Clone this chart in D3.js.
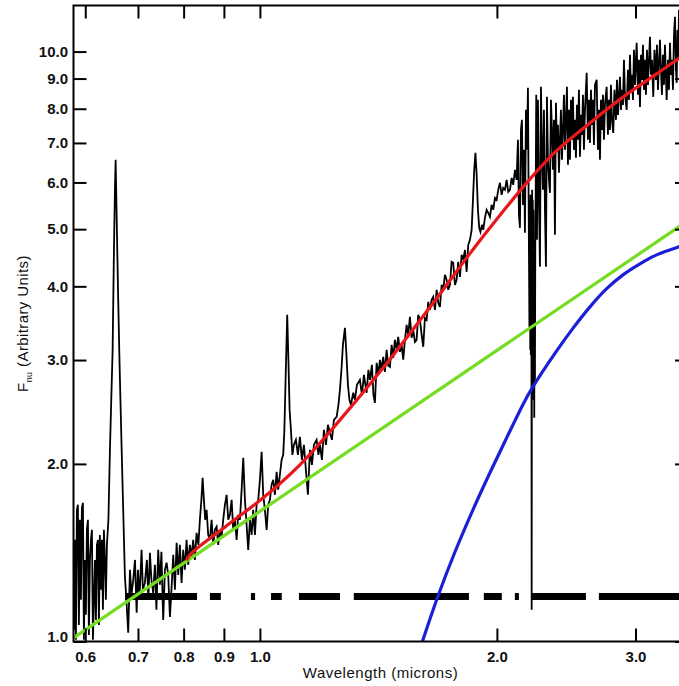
<!DOCTYPE html>
<html>
<head>
<meta charset="utf-8">
<script src="https://cdn.jsdelivr.net/npm/d3@7"></script>
<style>
  body { margin: 0; background: #fff; }
  svg { display: block; font-family: 'Liberation Sans', Arial, Helvetica, sans-serif; }
</style>
</head>
<body>
<svg id="chart"></svg>
<script>
// Data (wavelength in microns, F_nu in arbitrary units)
const spectrum = [
  [0.5804,1.047],[0.5821,1.487],[0.5838,1.007],[0.5855,1.672],[0.5872,1.705],[0.5889,1.067],[0.5907,1.608],[0.5924,1.177],
  [0.5941,1.685],[0.5959,1.718],[0.5976,1.007],[0.5994,1.375],[0.6011,1.110],[0.6029,1.546],[0.6047,1.608],[0.6064,1.026],
  [0.6082,1.375],[0.6100,1.487],[0.6118,1.546],[0.6136,1.007],[0.6154,1.177],[0.6172,1.375],[0.6190,1.088],[0.6208,1.458],
  [0.6226,1.487],[0.6244,1.067],[0.6262,1.516],[0.6281,1.224],[0.6299,1.487],[0.6318,1.132],[0.6336,1.546],[0.6355,1.375],
  [0.6373,1.177],[0.6392,1.458],
  // H alpha
  [0.6420,1.608],[0.6449,2.113],[0.6474,2.569],[0.6500,3.122],[0.6525,4.612],[0.6544,5.830],[0.6557,6.554],[0.6573,5.497],
  [0.6592,4.436],[0.6607,3.795],[0.6627,3.122],[0.6650,2.569],[0.6674,2.113],[0.6699,1.739],[0.6719,1.487],[0.6738,1.287],
  [0.6767,1.177],[0.6803,1.035],[0.6838,1.323],[0.6868,1.200],[0.6904,1.272],[0.6939,1.375],[0.6973,1.119],[0.7000,1.323],
  [0.7030,1.177],[0.7074,1.430],[0.7101,1.224],[0.7143,1.257],[0.7185,1.375],[0.7216,1.177],[0.7249,1.414],[0.7281,1.272],
  [0.7319,1.209],[0.7356,1.349],[0.7388,1.132],[0.7427,1.430],[0.7464,1.248],[0.7497,1.419],[0.7536,1.088],[0.7574,1.323],
  [0.7611,1.360],[0.7647,1.297],[0.7686,1.101],[0.7724,1.238],[0.7761,1.403],[0.7799,1.224],[0.7838,1.470],[0.7875,1.297],
  [0.7913,1.458],[0.7952,1.257],[0.7990,1.430],[0.8029,1.323],[0.8069,1.487],[0.8107,1.349],[0.8148,1.458],[0.8189,1.392],
  [0.8227,1.487],[0.8268,1.375],[0.8309,1.528],[0.8353,1.458],[0.8390,1.608],[0.8427,1.739],[0.8457,1.894],[0.8489,1.739],
  [0.8521,1.608],[0.8556,1.672],[0.8596,1.516],[0.8639,1.487],[0.8682,1.608],[0.8723,1.458],[0.8766,1.546],[0.8810,1.565],
  [0.8851,1.458],[0.8896,1.546],[0.8940,1.505],[0.8982,1.608],[0.9027,1.705],[0.9072,1.773],[0.9115,1.608],[0.9160,1.640],
  [0.9206,1.739],[0.9249,1.546],[0.9295,1.608],[0.9341,1.487],[0.9385,1.640],[0.9432,1.608],[0.9479,1.808],[0.9524,2.048],
  [0.9571,1.739],[0.9618,1.577],[0.9664,1.430],[0.9712,1.608],[0.9761,1.516],[0.9806,1.672],[0.9855,1.516],[0.9904,1.705],
  [0.9951,1.739],[1.0000,1.880],[1.0050,2.097],[1.0097,1.773],[1.0147,1.672],[1.0198,1.546],[1.0246,1.705],[1.0297,1.739],
  [1.0348,1.844],[1.0397,1.880],[1.0449,1.773],[1.0501,1.939],[1.0550,1.808],[1.0602,1.917],[1.0655,2.032],[1.0705,2.072],
  // He I 1.083
  [1.0742,2.285],[1.0780,2.777],[1.0831,3.579],[1.0869,3.003],[1.0907,2.470],[1.0949,2.285],[1.0997,2.072],[1.1046,2.155],
  [1.1110,2.197],[1.1176,2.072],[1.1241,2.223],[1.1307,2.032],[1.1373,2.155],[1.1440,1.954],[1.1507,1.773],[1.1575,2.113],
  [1.1643,1.993],[1.1711,2.155],[1.1804,2.197],[1.1866,2.072],[1.1919,2.155],[1.1989,2.032],[1.2059,2.285],[1.2130,2.155],
  [1.2201,2.330],[1.2273,2.258],[1.2345,2.197],[1.2417,2.376],[1.2516,2.404],[1.2582,2.519],
  // Pa beta
  [1.2637,2.671],[1.2693,2.887],[1.2748,3.183],[1.2823,3.401],[1.2880,3.061],[1.2936,2.723],[1.2993,2.569],[1.3050,2.519],
  [1.3138,2.640],[1.3204,2.569],[1.3281,2.723],[1.3398,2.777],[1.3477,2.619],[1.3556,2.832],[1.3663,2.640],[1.3735,2.887],
  [1.3796,2.777],[1.3877,2.944],[1.3938,2.619],[1.3999,2.538],[1.4069,2.967],[1.4143,2.832],[1.4205,3.003],[1.4267,2.887],
  [1.4343,3.037],[1.4414,2.865],[1.4486,3.122],[1.4554,2.933],[1.4627,2.921],[1.4700,3.183],[1.4769,3.026],[1.4842,3.246],
  [1.4917,3.122],[1.4986,3.285],[1.5061,3.097],[1.5136,3.183],[1.5207,3.003],[1.5283,3.246],[1.5359,3.441],[1.5431,3.310],
  [1.5508,3.551],[1.5585,3.272],[1.5658,3.375],[1.5737,3.221],[1.5815,3.246],[1.5889,3.579],[1.5969,3.510],[1.6049,3.310],
  [1.6124,3.159],[1.6204,3.538],[1.6285,3.510],[1.6362,3.765],[1.6443,3.649],[1.6525,3.795],[1.6602,3.839],[1.6685,3.649],
  [1.6768,3.946],[1.6847,3.750],[1.6931,3.692],[1.7015,4.023],[1.7095,3.946],[1.7180,4.183],[1.7266,4.103],[1.7347,3.946],
  [1.7433,4.023],[1.7520,4.401],[1.7602,4.384],[1.7690,4.023],[1.7778,4.103],[1.7861,4.401],[1.7951,4.151],[1.8040,4.523],
  [1.8125,4.436],[1.8216,4.612],[1.8306,4.233],[1.8392,4.703],[1.8484,4.796],[1.8576,4.987],
  // Pa alpha
  [1.8647,5.606],[1.8717,6.303],[1.8783,6.737],[1.8850,6.182],[1.8921,5.392],[1.8992,5.026],[1.9060,4.948],[1.9144,5.085],
  [1.9217,4.987],[1.9312,5.225],[1.9409,5.392],[1.9500,5.329],[1.9597,5.246],[1.9695,5.497],[1.9787,5.392],[1.9886,5.650],
  [1.9985,5.606],[2.0079,5.830],[2.0179,5.991],[2.0280,5.716],[2.0375,5.874],[2.0476,5.830],[2.0578,6.061],[2.0675,5.784],
  [2.0778,5.830],[2.0882,6.109],[2.0980,5.945],[2.1084,6.303],[2.1189,6.061],
  // K band
  [2.1208,6.303],[2.1270,7.086],[2.1332,5.287],[2.1395,5.026],[2.1458,7.367],[2.1520,7.661],[2.1583,5.497],[2.1646,6.814],
  [2.1710,4.929],[2.1773,7.965],[2.1837,6.814],[2.1901,8.679],[2.1965,4.612],[2.1997,3.375],[2.2030,5.606],[2.2049,3.122],
  [2.2069,5.716],[2.2088,3.061],[2.2107,5.606],[2.2127,3.246],[2.2140,1.132],[2.2153,3.003],[2.2172,5.830],[2.2192,3.122],
  [2.2211,5.606],[2.2231,3.183],[2.2250,5.392],[2.2270,2.569],[2.2289,4.796],[2.2309,2.394],[2.2329,4.436],[2.2354,2.777],
  [2.2381,5.185],[2.2400,5.606],[2.2440,8.446],
  [2.2486,4.796],[2.2552,8.282],[2.2618,5.606],[2.2684,4.316],[2.2750,8.713],[2.2817,6.814],[2.2884,5.830],[2.2951,7.965],
  [2.3018,5.392],[2.3086,4.316],[2.3153,8.380],[2.3221,6.554],[2.3289,6.061],[2.3357,5.761],[2.3425,8.282],[2.3494,7.367],
  [2.3563,6.303],[2.3632,7.661],[2.3701,4.890],[2.3770,8.186],[2.3840,6.814],[2.3910,7.512],[2.3980,6.230],[2.4051,7.086],
  [2.4121,7.965],[2.4192,6.554],[2.4263,7.367],[2.4334,8.446],[2.4405,6.814],[2.4476,7.661],[2.4548,8.713],[2.4620,6.428],
  [2.4692,7.965],[2.4765,6.554],[2.4837,8.282],[2.4910,7.086],[2.4983,8.380],[2.5056,6.814],[2.5129,7.661],[2.5203,6.606],
  [2.5277,8.122],[2.5351,7.086],[2.5425,8.612],[2.5500,6.631],[2.5575,7.811],[2.5650,7.225],[2.5725,8.446],[2.5800,6.814],
  [2.5876,7.965],[2.6005,9.203],[2.6103,7.086],[2.6180,8.282],[2.6257,7.002],[2.6334,8.612],[2.6411,7.512],[2.6488,8.282],
  [2.6566,6.948],[2.6644,8.782],[2.6777,8.954],[2.6878,6.814],[2.6957,7.965],[2.7036,6.554],[2.7115,8.282],[2.7195,7.367],
  [2.7274,8.446],[2.7354,7.086],[2.7434,8.122],[2.7571,8.713],[2.7675,7.225],[2.7757,8.282],[2.7839,7.367],[2.7920,8.782],
  [2.8002,7.661],[2.8109,7.281],[2.8208,8.612],[2.8332,7.661],[2.8415,8.954],[2.8498,7.811],[2.8665,9.061],[2.8749,7.965],
  [2.8833,8.612],[2.8918,8.122],[2.9002,9.681],[2.9087,8.446],[2.9232,7.965],[2.9345,9.311],[2.9431,8.282],[2.9516,9.872],
  [2.9603,8.612],[2.9689,9.132],[2.9776,8.282],[2.9864,10.07],[2.9951,8.782],[3.0100,10.35],[3.0215,8.446],[3.0303,9.681],
  [3.0392,8.059],[3.0481,9.872],[3.0570,8.954],[3.0660,10.27],[3.0750,8.612],[3.0840,9.681],[3.0930,8.446],[3.1021,10.07],
  [3.1112,8.782],[3.1294,10.59],[3.1386,9.132],[3.1477,9.681],[3.1598,8.380],[3.1709,10.07],[3.1848,8.954],[3.1941,10.27],
  [3.2035,8.612],[3.2223,10.47],[3.2317,9.311],[3.2412,8.446],[3.2507,9.872],[3.2602,8.782],[3.2697,10.27],[3.2861,8.282],
  [3.2987,9.681],[3.3083,8.612],[3.3180,10.35],[3.3277,9.132],[3.3375,9.681],[3.3472,8.612],[3.3570,10.67],[3.3669,11.45],
  [3.3767,9.311],[3.3837,8.851],[3.3915,10.88],[3.3995,9.681],[3.4065,11.77]
];

// total model (red)
const totalFit = [
  [0.8069,1.372],[0.8148,1.403],[0.9072,1.571],[1.0097,1.752],[1.1241,1.993],[1.2392,2.302],[1.4343,2.910],
  [1.6602,3.750],[1.8306,4.470],[1.9597,5.026],[2.1603,5.898],[2.3584,6.710],[2.6257,7.570],[2.8943,8.380],
  [3.1913,9.167],[3.4065,9.739],[3.4977,9.977]
];

// power law (green)
const powerLaw = [[0.5797,1.014],[3.4977,5.168]];

// hot dust / blackbody (blue)
const blackBody = [
  [1.5875,0.951],[1.6081,1.000],[1.6827,1.192],[1.7690,1.418],[1.8647,1.672],[1.9597,1.932],[2.0578,2.214],
  [2.1603,2.528],[2.2140,2.681],[2.3819,3.109],[2.5005,3.401],[2.6257,3.692],[2.7571,3.963],[2.8918,4.183],
  [3.0392,4.367],[3.1913,4.523],[3.4065,4.666],[3.4977,4.716]
];

// wavelength ranges marked by the dash-dot bar
const maskRanges = [
  [0.674,0.832],[0.864,0.892],[0.974,0.986],[1.033,1.066],[1.121,1.264],
  [1.316,1.843],[1.925,2.029],[2.108,2.133],[2.215,2.595],[2.695,3.500]
];
const maskLevel = 1.192;

const xDomain = [0.5797, 3.4977];
const yDomain = [1.0, 11.97];
const xTicks = [0.6, 0.7, 0.8, 0.9, 1.0, 2.0, 3.0];
const yTicks = [1, 2, 3, 4, 5, 6, 7, 8, 9, 10];

window.addEventListener('DOMContentLoaded', e => {
    let width = 679;
    let height = 686;
    let plot = {left: 73.5, right: 688, top: 5.5, bottom: 641.5};

    let svg = d3.select('#chart')
        .attr('width', width)
        .attr('height', height);

    let xScale = d3.scaleLog().domain(xDomain).range([plot.left, plot.right]);
    let yScale = d3.scaleLog().domain(yDomain).range([plot.bottom, plot.top]);

    svg.append('clipPath')
        .attr('id', 'plot-clip')
        .append('rect')
        .attr('x', plot.left)
        .attr('y', plot.top)
        .attr('width', plot.right - plot.left)
        .attr('height', plot.bottom - plot.top);

    let dataLayer = svg.append('g').attr('clip-path', 'url(#plot-clip)');

    let line = d3.line()
        .x(d => xScale(d[0]))
        .y(d => yScale(d[1]));

    // spectrum
    dataLayer.append('path')
        .datum(spectrum)
        .attr('d', line)
        .attr('fill', 'none')
        .attr('stroke', '#000')
        .attr('stroke-width', 1.8)
        .attr('stroke-linejoin', 'miter');

    // dash-dot bar
    dataLayer.selectAll('line.mask')
        .data(maskRanges)
        .join('line')
        .attr('class', 'mask')
        .attr('x1', d => xScale(d[0]))
        .attr('x2', d => xScale(d[1]))
        .attr('y1', yScale(maskLevel))
        .attr('y2', yScale(maskLevel))
        .attr('stroke', '#000')
        .attr('stroke-width', 7);

    let smooth = d3.line()
        .x(d => xScale(d[0]))
        .y(d => yScale(d[1]))
        .curve(d3.curveCatmullRom.alpha(0.5));

    dataLayer.append('path')
        .datum(powerLaw)
        .attr('d', line)
        .attr('fill', 'none')
        .attr('stroke', '#74dd22')
        .attr('stroke-width', 3.2);

    dataLayer.append('path')
        .datum(totalFit)
        .attr('d', smooth)
        .attr('fill', 'none')
        .attr('stroke', '#e8171b')
        .attr('stroke-width', 3.2);

    dataLayer.append('path')
        .datum(blackBody)
        .attr('d', smooth)
        .attr('fill', 'none')
        .attr('stroke', '#1b1fd8')
        .attr('stroke-width', 3.2);

    // axes, ticks pointing inward
    let fmt = d3.format('.1f');

    let styleAxis = g => {
        g.select('.domain').remove();
        g.selectAll('.tick line').attr('stroke', '#000').attr('stroke-width', 2);
        g.attr('font-family', null).attr('font-size', 15).attr('font-weight', 'bold');
        g.selectAll('.tick text').attr('fill', '#111');
    }

    svg.append('g')
        .attr('transform', 'translate(0,' + plot.bottom + ')')
        .call(d3.axisBottom(xScale).tickValues(xTicks).tickFormat(fmt).tickSize(-13).tickPadding(9.5))
        .call(styleAxis);

    svg.append('g')
        .attr('transform', 'translate(' + plot.left + ',0)')
        .call(d3.axisLeft(yScale).tickValues(yTicks).tickFormat(fmt).tickSize(-13).tickPadding(5.5))
        .call(styleAxis)
        .selectAll('.tick text')
        .filter(d => d === yTicks[0])
        .attr('dy', '0em');

    svg.append('g')
        .attr('transform', 'translate(0,' + plot.top + ')')
        .call(d3.axisTop(xScale).tickValues(xTicks).tickFormat('').tickSize(-13))
        .call(styleAxis);

    svg.append('g')
        .attr('transform', 'translate(' + plot.right + ',0)')
        .call(d3.axisRight(yScale).tickValues(yTicks).tickFormat('').tickSize(-13))
        .call(styleAxis);

    // frame
    svg.append('rect')
        .attr('x', plot.left)
        .attr('y', plot.top)
        .attr('width', plot.right - plot.left)
        .attr('height', plot.bottom - plot.top)
        .attr('fill', 'none')
        .attr('stroke', '#000')
        .attr('stroke-width', 2);

    // axis titles
    svg.append('text')
        .attr('x', 380.5)
        .attr('y', 678)
        .attr('text-anchor', 'middle')
        .attr('font-size', 15)
        .attr('letter-spacing', 0.5)
        .attr('fill', '#111')
        .text('Wavelength (microns)');

    let yTitle = svg.append('text')
        .attr('transform', 'translate(28,323.5) rotate(-90)')
        .attr('text-anchor', 'middle')
        .attr('font-size', 15)
        .attr('letter-spacing', 0.4)
        .attr('fill', '#111');
    yTitle.append('tspan').text('F');
    yTitle.append('tspan').attr('font-size', 9).attr('dy', 4).text('nu');
    yTitle.append('tspan').attr('dy', -4).text(' (Arbitrary Units)');
})
</script>
</body>
</html>
